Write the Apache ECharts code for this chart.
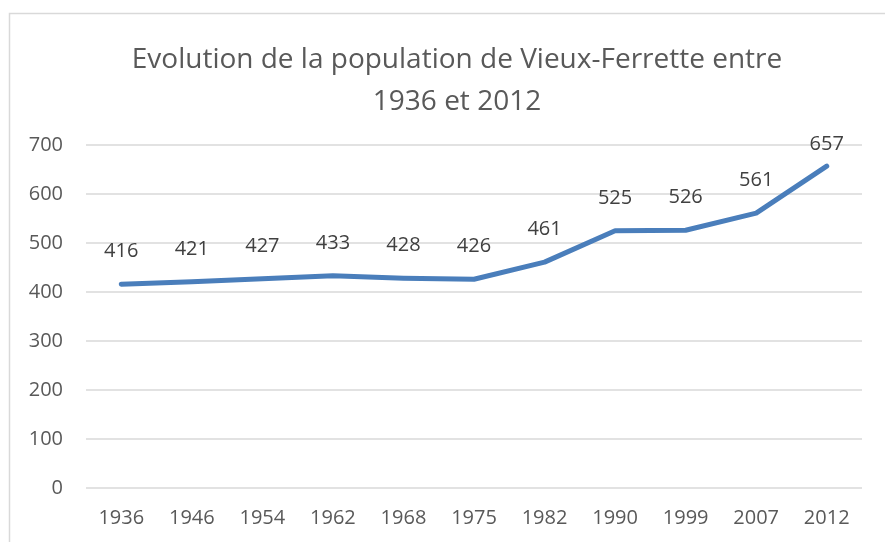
<!DOCTYPE html>
<html>
<head>
<meta charset="utf-8">
<script src="https://cdn.jsdelivr.net/npm/echarts@6/dist/echarts.min.js"></script>
<style>
  html, body { margin: 0; padding: 0; background: #fff; }
  #chart { width: 885px; height: 542px; }
</style>
</head>
<body>
<div id="chart"></div>
<script>
// données
const years = ['1936', '1946', '1954', '1962', '1968', '1975', '1982', '1990', '1999', '2007', '2012']
const population = [416, 421, 427, 433, 428, 426, 461, 525, 526, 561, 657]
const yTicks = [0, 100, 200, 300, 400, 500, 600, 700]

const chart = echarts.init(document.getElementById('chart'))

const font = '"Open Sans", "Noto Sans", sans-serif'

// la dernière étiquette est plus proche de la courbe (comme dans Excel)
const seriesData = population.map((v, i) =>
    i === population.length - 1 ? { value: v, label: { distance: 11 } } : v)

chart.setOption({
    animation: false,
    // cadre du graphique
    graphic: [{
        type: 'rect',
        shape: { x: 9.5, y: 13.5, width: 900, height: 600 },
        style: { fill: 'none', stroke: '#d9d9d9', lineWidth: 1.5 },
        silent: true
    }],
    title: {
        text: 'Evolution de la population de Vieux-Ferrette entre\n1936 et 2012',
        left: 452,
        textAlign: 'center',
        top: 34,
        textStyle: {
            fontFamily: font,
            fontSize: 28,
            fontWeight: 'normal',
            color: '#595959',
            lineHeight: 42
        }
    },
    grid: {
        left: 86,
        right: 23,
        top: 145,
        bottom: 54
    },
    xAxis: {
        type: 'category',
        data: years,
        boundaryGap: true,
        axisLine: { show: false },
        axisTick: { show: false },
        axisLabel: {
            margin: 20,
            fontFamily: font,
            fontSize: 20,
            color: '#595959'
        }
    },
    yAxis: {
        type: 'value',
        min: yTicks[0],
        max: yTicks[yTicks.length - 1],
        interval: 100,
        axisLine: { show: false },
        axisTick: { show: false },
        axisLabel: {
            margin: 23,
            fontFamily: font,
            fontSize: 20,
            color: '#595959'
        },
        splitLine: {
            lineStyle: { color: '#d9d9d9', width: 1.5 }
        }
    },
    series: [{
        type: 'line',
        data: seriesData,
        showSymbol: true,
        symbol: 'circle',
        symbolSize: 1,
        itemStyle: { color: '#4a7ebb' },
        lineStyle: {
            color: '#4a7ebb',
            width: 5,
            cap: 'round',
            join: 'round'
        },
        label: {
            show: true,
            position: 'top',
            distance: 22,
            fontFamily: font,
            fontSize: 20,
            color: '#404040'
        }
    }]
})
</script>
</body>
</html>
